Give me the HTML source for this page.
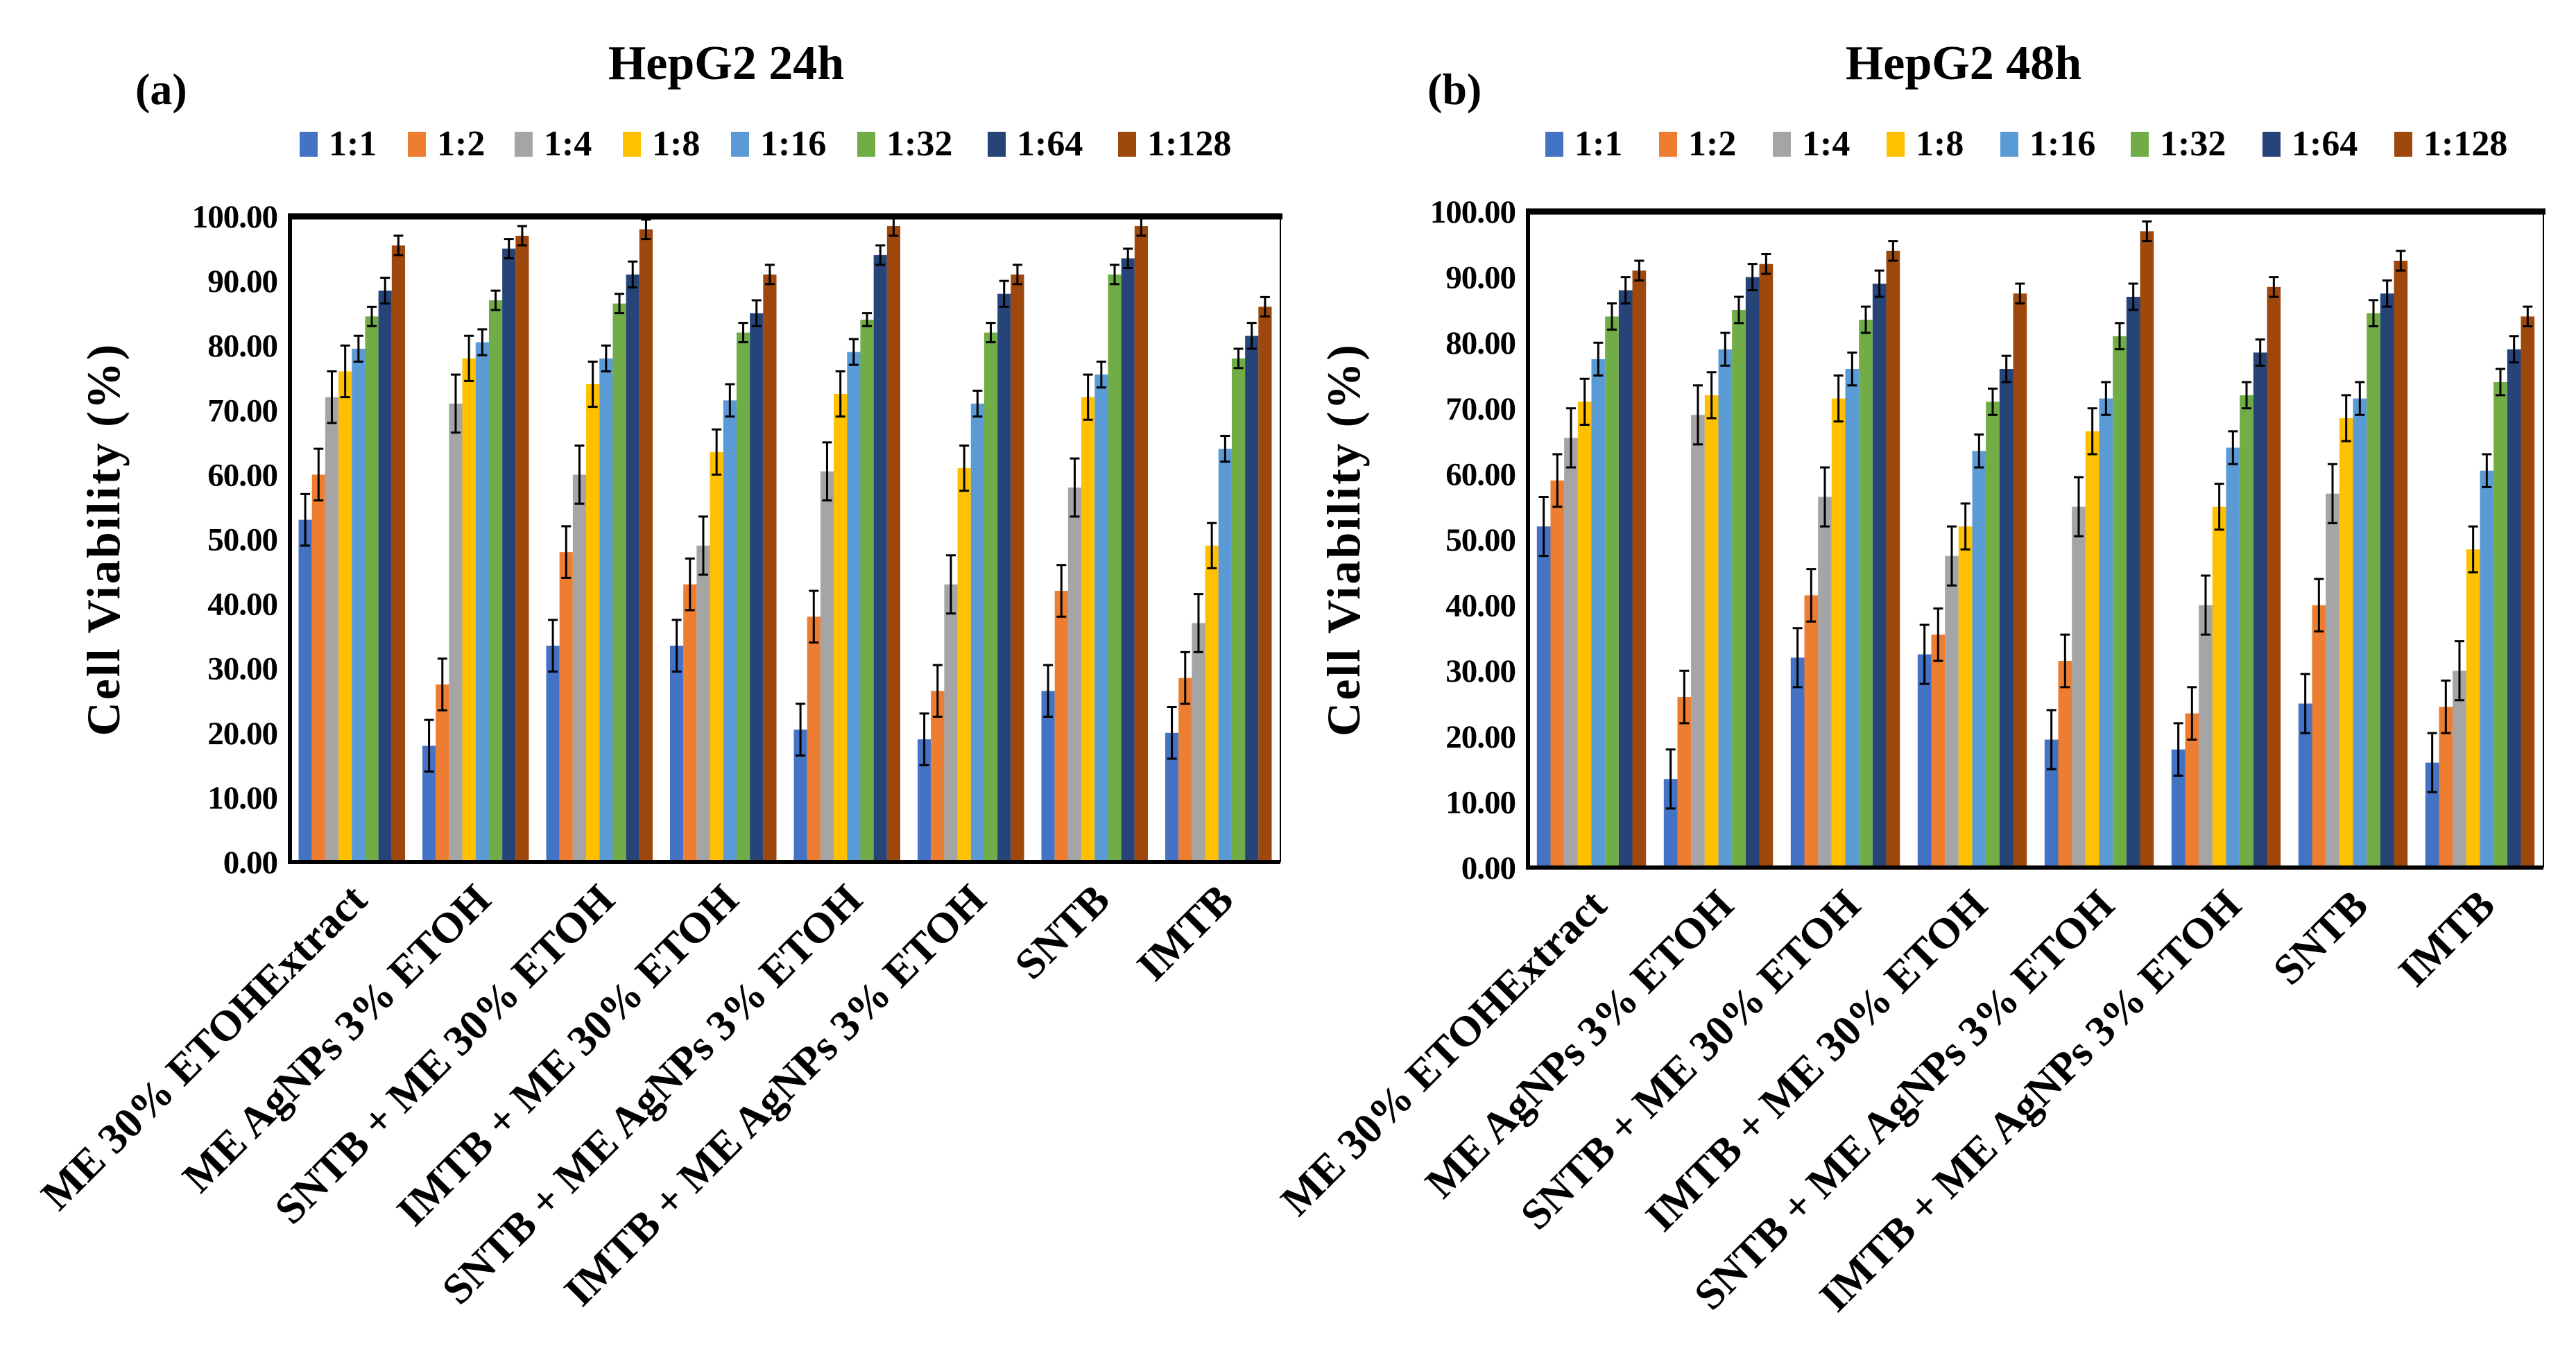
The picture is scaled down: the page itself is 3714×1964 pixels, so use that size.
<!DOCTYPE html>
<html><head><meta charset="utf-8"><style>
html,body{margin:0;padding:0;background:#fff}
svg{display:block}
text{font-family:"Liberation Serif",serif;font-weight:bold;fill:#000}
</style></head><body>
<svg id="fig" width="3714" height="1964" viewBox="0 0 3714 1964" xmlns="http://www.w3.org/2000/svg"></svg>
<script>
const categories=["ME 30% ETOHExtract","ME AgNPs 3% ETOH","SNTB + ME 30% ETOH","IMTB + ME 30% ETOH","SNTB + ME AgNPs 3% ETOH","IMTB + ME AgNPs 3% ETOH","SNTB","IMTB"];
const seriesNames=["1:1","1:2","1:4","1:8","1:16","1:32","1:64","1:128"];
const colors=["#4472C4","#ED7D31","#A5A5A5","#FFC000","#5B9BD5","#70AD47","#264478","#9E480E"];
const yTicks=[0,10,20,30,40,50,60,70,80,90,100];
// values per group (a) 24h
const valuesA=[
[53,60,72,76,79.5,84.5,88.5,95.5],
[18,27.5,71,78,80.5,87,95,97],
[33.5,48,60,74,78,86.5,91,98],
[33.5,43,49,63.5,71.5,82,85,91],
[20.5,38,60.5,72.5,79,84,94,98.5],
[19,26.5,43,61,71,82,88,91],
[26.5,42,58,72,75.5,91,93.5,98.5],
[20,28.5,37,49,64,78,81.5,86]];
const errorsA=[
[4,4,4,4,2,1.5,2,1.5],
[4,4,4.5,3.5,2,1.5,1.5,1.5],
[4,4,4.5,3.5,2,1.5,2,1.5],
[4,4,4.5,3.5,2.5,1.5,2,1.5],
[4,4,4.5,3.5,2,1,1.5,1.5],
[4,4,4.5,3.5,2,1.5,2,1.5],
[4,4,4.5,3.5,2,1.5,1.5,1.5],
[4,4,4.5,3.5,2,1.5,2,1.5]];
// values per group (b) 48h
const valuesB=[
[52,59,65.5,71,77.5,84,88,91],
[13.5,26,69,72,79,85,90,92],
[32,41.5,56.5,71.5,76,83.5,89,94],
[32.5,35.5,47.5,52,63.5,71,76,87.5],
[19.5,31.5,55,66.5,71.5,81,87,97],
[18,23.5,40,55,64,72,78.5,88.5],
[25,40,57,68.5,71.5,84.5,87.5,92.5],
[16,24.5,30,48.5,60.5,74,79,84]];
const errorsB=[
[4.5,4,4.5,3.5,2.5,2,2,1.5],
[4.5,4,4.5,3.5,2.5,2,2,1.5],
[4.5,4,4.5,3.5,2.5,2,2,1.5],
[4.5,4,4.5,3.5,2.5,2,2,1.5],
[4.5,4,4.5,3.5,2.5,2,2,1.5],
[4,4,4.5,3.5,2.5,2,2,1.5],
[4.5,4,4.5,3.5,2.5,2,2,1.5],
[4.5,4,4.5,3.5,2.5,2,2,1.5]];

const NS="http://www.w3.org/2000/svg";
const svg=document.getElementById('fig');
function el(tag,attrs,parent){const e=document.createElementNS(NS,tag);for(const k in attrs)e.setAttribute(k,attrs[k]);(parent||svg).appendChild(e);return e;}

function drawChart(cfg){
  const g=el('g',{});
  
  
  const L=cfg.left,R=cfg.right,T=cfg.top,B=cfg.bottom;
  const y=v=>B-(v/100)*(B-T);
  const gw=(R-L)/categories.length;
  const bw=gw*0.86/seriesNames.length;
  const pl=el('text',{x:cfg.labelX,y:150,'font-size':64},g);pl.textContent=cfg.panel;
  
  
  const tt=el('text',{x:cfg.titleX,y:114,'font-size':70,'text-anchor':'middle'},g);tt.textContent=cfg.title;
  
  
  seriesNames.forEach((s,i)=>{
    const lx=cfg.legendX[i];
    const r=el('rect',{x:lx,y:190,width:26,height:36,fill:colors[i]},g);
    
    
    const t=el('text',{x:lx+42,y:224,'font-size':52},g);t.textContent=s;
    
    
  });
  yTicks.forEach(v=>{
    const t=el('text',{x:L-18,y:y(v)+16,'font-size':47,'text-anchor':'end','letter-spacing':'-1'},g);
    t.textContent=v.toFixed(2);
    
    
  });
  const yt=el('text',{x:0,y:0,'font-size':68,'text-anchor':'middle',transform:`translate(${cfg.ytitleX},${(T+B)/2}) rotate(-90)`,'letter-spacing':'3'},g);
  yt.textContent='Cell Viability (%)';
  
  
  cfg.values.forEach((grp,gi)=>{
    const gx=L+gi*gw+gw*0.07;
    grp.forEach((v,si)=>{
      const x=gx+si*bw;
      const b=el('rect',{x:x,y:y(v),width:bw,height:B-y(v),fill:colors[si]},g);
      
      
      const e=cfg.errors[gi][si];const cx=x+bw/2;
      const eb=el('path',{d:`M${cx} ${y(v+e)}V${y(v-e)}M${cx-7} ${y(v+e)}H${cx+7}M${cx-7} ${y(v-e)}H${cx+7}`,stroke:'#000','stroke-width':3,fill:'none'},g);
      
      
    });
    const cx=L+(gi+0.5)*gw;
    const t=el('text',{x:0,y:0,'font-size':62,'text-anchor':'end',transform:`translate(${cx+25},${B+58}) rotate(-45)`},g);
    t.textContent=categories[gi];
    
    
  });
  const fr=el('path',{d:`M${L} ${T}H${R}V${B}`,stroke:'#000','stroke-width':2,fill:'none'},g);
  
  
  const top=el('line',{x1:L-3,y1:T,x2:R+3,y2:T,stroke:'#000','stroke-width':9},g);
  
  
  const ya=el('line',{x1:L,y1:T,x2:L,y2:B+3,stroke:'#000','stroke-width':6},g);
  
  
  const xa=el('line',{x1:L,y1:B,x2:R,y2:B,stroke:'#000','stroke-width':6},g);
  
  
}
drawChart({id:'chart-24h',panel:'(a)',title:'HepG2 24h',labelX:195,titleX:1047,
  left:418,right:1846,top:312,bottom:1243,ytitleX:172,values:valuesA,errors:errorsA,
  legendX:[432,588,742,898,1054,1236,1424,1612]});
drawChart({id:'chart-48h',panel:'(b)',title:'HepG2 48h',labelX:2058,titleX:2831,
  left:2203,right:3667,top:305,bottom:1251,ytitleX:1960,values:valuesB,errors:errorsB,
  legendX:[2228,2392,2556,2720,2884,3072,3262,3452]});
</script>
</body></html>
